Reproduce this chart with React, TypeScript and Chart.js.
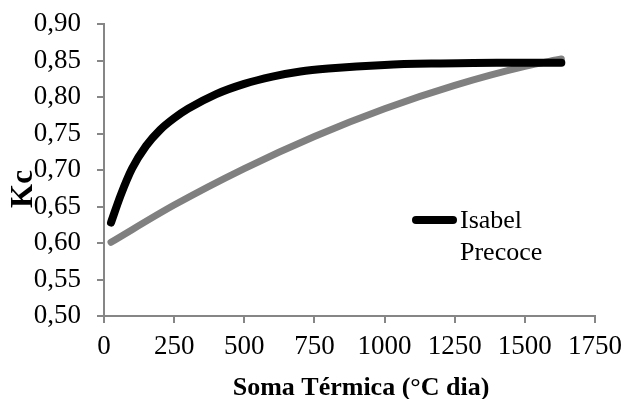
import React, { useEffect, useRef } from "react";
import { Chart, registerables } from "chart.js";

Chart.register(...registerables);

// Isabel Precoce (black curve)
const blackX = [25, 60, 100, 150, 200, 250, 300, 400, 500, 600, 700, 800, 1000, 1200, 1400, 1630];
const blackY = [0.628, 0.666, 0.702, 0.733, 0.755, 0.771, 0.784, 0.804, 0.818, 0.828, 0.835, 0.839, 0.844, 0.846, 0.847, 0.847];

// Second curve (grey, no legend entry)
const grayX = [25, 250, 500, 750, 1000, 1250, 1500, 1630];
const grayY = [0.601, 0.652, 0.702, 0.746, 0.784, 0.816, 0.842, 0.852];

const xTicks = [0, 250, 500, 750, 1000, 1250, 1500, 1750];
const yTicks = [0.5, 0.55, 0.6, 0.65, 0.7, 0.75, 0.8, 0.85, 0.9];

const seriesName = "Isabel Precoce";
const legendLines = ["Isabel", "Precoce"];
const xTitle = "Soma Térmica (°C dia)";
const yTitle = "Kc";

const FONT = "'Liberation Serif', 'Times New Roman', serif";
const AXIS = "#868686";

export default function App() {
  const ref = useRef<HTMLCanvasElement>(null);

  useEffect(() => {
    if (!ref.current) return;
    const overlayPlugin = {
      id: "overlayText",
      afterDraw(chart: any) {
        const ctx = chart.ctx;
        ctx.save();
        // legend
        ctx.strokeStyle = "#000";
        ctx.lineWidth = 8;
        ctx.lineCap = "round";
        ctx.beginPath();
        ctx.moveTo(416, 220);
        ctx.lineTo(453, 220);
        ctx.stroke();
        ctx.fillStyle = "#000";
        ctx.font = `26px ${FONT}`;
        ctx.textBaseline = "alphabetic";
        ctx.textAlign = "left";
        ctx.fillText(legendLines[0], 460, 228);
        ctx.fillText(legendLines[1], 460, 260);
        // x title
        ctx.font = `bold 26px ${FONT}`;
        ctx.textAlign = "center";
        ctx.fillText(xTitle, 361, 395);
        // y title
        ctx.translate(22, 189);
        ctx.rotate(-Math.PI / 2);
        ctx.font = `bold 31px ${FONT}`;
        ctx.textAlign = "center";
        ctx.textBaseline = "alphabetic";
        ctx.fillText(yTitle, 0, 10);
        ctx.restore();
      },
    };

    const chart = new Chart(ref.current, {
      type: "line",
      data: {
        datasets: [
          {
            label: seriesName,
            data: blackX.map((x, i) => ({ x, y: blackY[i] })),
            borderColor: "#000000",
            borderWidth: 8,
            pointRadius: 0,
            cubicInterpolationMode: "monotone",
            borderCapStyle: "round",
            borderJoinStyle: "round",
            fill: false,
          },
          {
            label: "",
            data: grayX.map((x, i) => ({ x, y: grayY[i] })),
            borderColor: "#808080",
            borderWidth: 7,
            pointRadius: 0,
            cubicInterpolationMode: "monotone",
            borderCapStyle: "round",
            borderJoinStyle: "round",
            fill: false,
          },
        ],
      },
      options: {
        animation: false,
        responsive: false,
        layout: { padding: { top: 24, right: 40, left: 0, bottom: 0 } },
        plugins: { legend: { display: false }, tooltip: { enabled: false } },
        scales: {
          x: {
            type: "linear",
            min: 0,
            max: 1750,
            afterBuildTicks: (s: any) => {
              s.ticks = xTicks.map((v) => ({ value: v }));
            },
            afterFit: (s: any) => {
              s.height = 83;
              s.paddingLeft = 0;
              s.paddingRight = 0;
            },
            ticks: {
              color: "#000",
              font: { family: FONT, size: 27 },
              padding: 8,
              maxRotation: 0,
              autoSkip: false,
              callback: (v: any) => String(v),
            },
            grid: {
              drawOnChartArea: false,
              drawTicks: true,
              tickLength: 7,
              color: AXIS,
              lineWidth: 2,
            },
            border: { color: AXIS, width: 2 },
            title: { display: false },
          },
          y: {
            type: "linear",
            min: 0.5,
            max: 0.9,
            afterBuildTicks: (s: any) => {
              s.ticks = yTicks.map((v) => ({ value: v }));
            },
            afterFit: (s: any) => {
              s.width = 104;
              s.paddingTop = 0;
              s.paddingBottom = 0;
            },
            ticks: {
              color: "#000",
              font: { family: FONT, size: 27 },
              padding: 16,
              autoSkip: false,
              callback: (v: any) => Number(v).toFixed(2).replace(".", ","),
            },
            grid: {
              drawOnChartArea: false,
              drawTicks: true,
              tickLength: 7,
              color: AXIS,
              lineWidth: 2,
            },
            border: { color: AXIS, width: 2 },
            title: { display: false },
          },
        },
      },
      plugins: [overlayPlugin],
    } as any);

    return () => chart.destroy();
  }, []);

  return (
    <div style={{ position: "absolute", left: 0, top: 0, width: 635, height: 399, background: "#fff" }}>
      <canvas ref={ref} width={635} height={399} style={{ display: "block" }} />
    </div>
  );
}
